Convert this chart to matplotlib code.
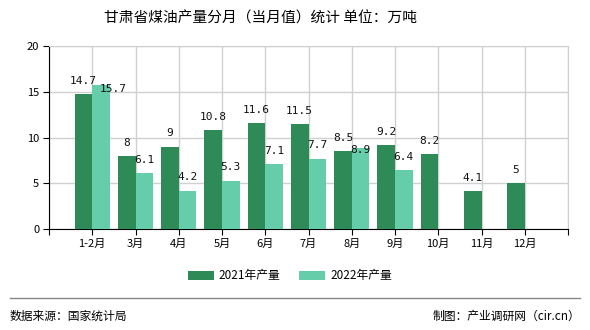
import matplotlib
matplotlib.use("Agg")
import matplotlib.pyplot as plt
import numpy as np

plt.rcParams['font.family'] = ['Noto Sans CJK SC', 'DejaVu Sans']

months = ['1-2月', '3月', '4月', '5月', '6月', '7月', '8月', '9月', '10月', '11月', '12月']
v2021 = [14.7, 8, 9, 10.8, 11.6, 11.5, 8.5, 9.2, 8.2, 4.1, 5]
v2022 = [15.7, 6.1, 4.2, 5.3, 7.1, 7.7, 8.9, 6.4]

dark = '#2e8b57'
light = '#66cdaa'

fig = plt.figure(figsize=(5.9, 3.3), dpi=100)
ax = fig.add_axes([49/590, 1-229/330, (568-49)/590, (229-46)/330])

x = np.arange(len(months))
w = 0.41
ax.bar(x - w/2, v2021, w, color=dark, label='2021年产量', zorder=3)
x2 = np.arange(len(v2022))
ax.bar(x2 + w/2, v2022, w, color=light, label='2022年产量', zorder=3)

lab_font = dict(fontsize=8, family=['DejaVu Sans Mono'], color='#111111')
for xi, v in zip(x, v2021):
    ax.text(xi - w/2, v + 0.9, f'{v:g}', ha='center', va='bottom', **lab_font)
# shift a couple of 2022 labels so they do not collide with 2021 ones
shift = {0: (0.27, -1.8), 6: (0, -1.7)}
for xi, v in zip(x2, v2022):
    dx, dy = shift.get(xi, (0, 0))
    ax.text(xi + w/2 + dx, v + 0.9 + dy, f'{v:g}', ha='center', va='bottom', **lab_font)

ax.set_xlim(-1, 11)
ax.set_ylim(0, 20)
ax.set_yticks([0, 5, 10, 15, 20])
ax.set_xticks(np.arange(-1, 12))
ax.set_xticklabels([''] + months + [''])
ax.tick_params(axis='both', labelsize=8, length=4, color='black', pad=3)
ax.grid(True, color='#d0d0d0', linewidth=1, zorder=0)
for s in ['top', 'right']:
    ax.spines[s].set_color('#d0d0d0')
ax.spines['left'].set_color('black')
ax.spines['bottom'].set_color('black')

fig.text(261/590, 1-18/330, '甘肃省煤油产量分月（当月值）统计 单位：万吨',
         ha='center', va='center', fontsize=10.6)

fig.legend(loc='center', bbox_to_anchor=(290/590, 1-276/330), ncol=2, frameon=False,
           fontsize=8.5, handlelength=2.2, handleheight=0.8, columnspacing=1.6,
           handletextpad=0.4)

fig.add_artist(plt.Line2D([10/590, 580/590], [1-298/330, 1-298/330],
                          color='#888888', linewidth=1))
fig.text(10/590, 1-316/330, '数据来源：国家统计局', ha='left', va='center', fontsize=8.5)
fig.text(580/590, 1-316/330, '制图：产业调研网（cir.cn）', ha='right', va='center', fontsize=8.5)

fig.savefig('out.png', dpi=100)
